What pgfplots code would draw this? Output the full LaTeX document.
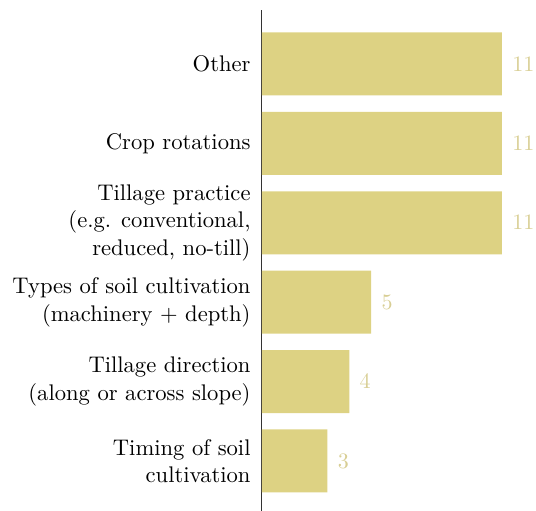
\documentclass[border=0pt]{standalone}
\usepackage{pgfplots}
\pgfplotsset{compat=1.18}
\definecolor{barc}{HTML}{DDD283}
\definecolor{numc}{HTML}{D8CE94}
\definecolor{axc}{HTML}{333333}
\begin{document}
\begin{tikzpicture}
\begin{axis}[
  scale only axis,
  width=240pt, height=501pt,
  xmin=0, xmax=11,
  ymin=-0.63, ymax=5.68,
  xbar, bar width=63pt,
  axis x line=none,
  axis y line*=left,
  y axis line style={axc, line width=1pt},
  ytick={0,1,2,3,4,5},
  yticklabels={{Timing of soil\\cultivation},{Tillage direction\\(along or across slope)},{Types of soil cultivation\\(machinery + depth)},{Tillage practice\\(e.g. conventional,\\reduced, no-till)},{Crop rotations},{Other}},
  major tick length=0pt,
  yticklabel style={align=right, inner sep=0pt, xshift=-11pt, font=\fontsize{10}{12.2}\selectfont, scale=2.26, transform shape},
  nodes near coords,
  nodes near coords style={anchor=west, inner sep=0pt, xshift=10pt, color=numc, font=\fontsize{10}{12}\selectfont, scale=2.2, transform shape},
  clip=false,
]
\addplot[fill=barc, draw=none] coordinates {(3,0) (4,1) (5,2) (11,3) (11,4) (11,5)};
\coordinate (ll) at (rel axis cs:0,0);
\coordinate (ur) at (rel axis cs:1,1);
\end{axis}
\pgfresetboundingbox
\path ([xshift=-262pt,yshift=0pt]ll) rectangle ([xshift=34pt,yshift=10pt]ur);
\end{tikzpicture}
\end{document}
